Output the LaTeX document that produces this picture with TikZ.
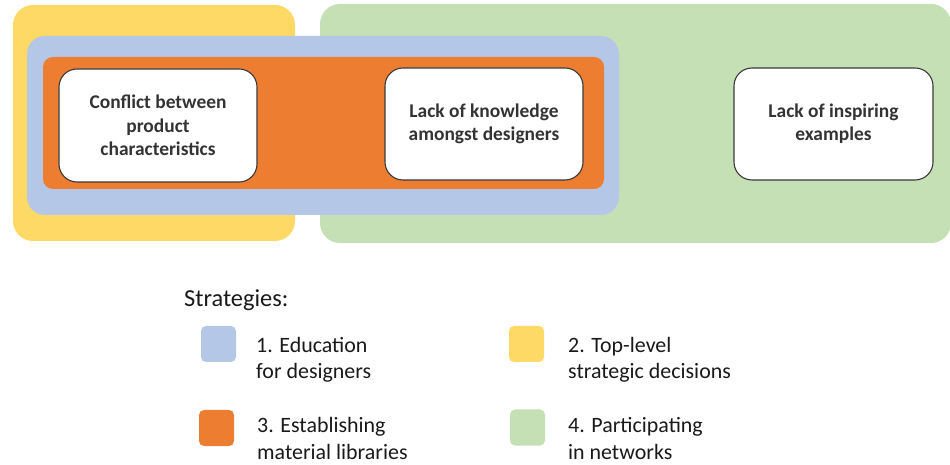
\documentclass[tikz,border=0pt]{standalone}
\usepackage{fontspec}
\setmainfont{Carlito}
\definecolor{cyellow}{HTML}{FFD966}
\definecolor{cblue}{HTML}{B4C7E7}
\definecolor{corange}{HTML}{ED7D31}
\definecolor{cgreen}{HTML}{C5E0B4}
\definecolor{ctext}{HTML}{333333}
\definecolor{cborder}{HTML}{3A3A3A}
\begin{document}
\begin{tikzpicture}[x=1bp,y=-1bp,
  barrier/.style={draw=cborder,line width=1.1bp,fill=white,rounded corners=18bp,
    align=center,text=ctext,inner sep=0pt,
    font=\fontsize{19.5}{23.5}\selectfont\bfseries},
  legsq/.style={rounded corners=5bp,inner sep=0pt,minimum width=35bp,minimum height=36bp},
  legtext/.style={anchor=base west,align=left,inner sep=0pt,text=black!90,
    font=\fontsize{22}{27}\selectfont}]
\useasboundingbox (0,0) rectangle (950,465);
% strategy areas
\fill[cgreen,rounded corners=20bp] (320,4) rectangle (951,243);
\fill[cyellow,rounded corners=20bp] (13,5) rectangle (295,241);
\fill[cblue,rounded corners=18bp] (27,36) rectangle (619,215);
\fill[corange,rounded corners=10bp] (43,57) rectangle (604,189);
% barriers
\node[barrier,minimum width=198bp,minimum height=113bp] (b1) at (158,125.5)
  {Conflict between\\product\\characteristics};
\node[barrier,minimum width=198bp,minimum height=112bp] (b2) at (484,124)
  {Lack of knowledge\\amongst designers};
\node[barrier,minimum width=199bp,minimum height=112bp] (b3) at (833.5,124)
  {Lack of inspiring\\examples};
% legend
\node[anchor=base west,inner sep=0pt,text=black!90,font=\fontsize{24.5}{29}\selectfont] (title) at (184,307) {Strategies:};
\node[legsq,fill=cblue] (s1) at (218.5,344) {};
\node[legsq,fill=cyellow] (s2) at (526.5,344) {};
\node[legsq,fill=corange] (s3) at (216.5,428) {};
\node[legsq,fill=cgreen] (s4) at (527.5,427.5) {};
\node[legtext] (t1) at (256,379) {1. Education\\for designers};
\node[legtext] (t2) at (568,379) {2. Top-level\\strategic decisions};
\node[legtext] (t3) at (257,459) {3. Establishing\\material libraries};
\node[legtext] (t4) at (568,459.5) {4. Participating\\in networks};
\end{tikzpicture}
\end{document}
